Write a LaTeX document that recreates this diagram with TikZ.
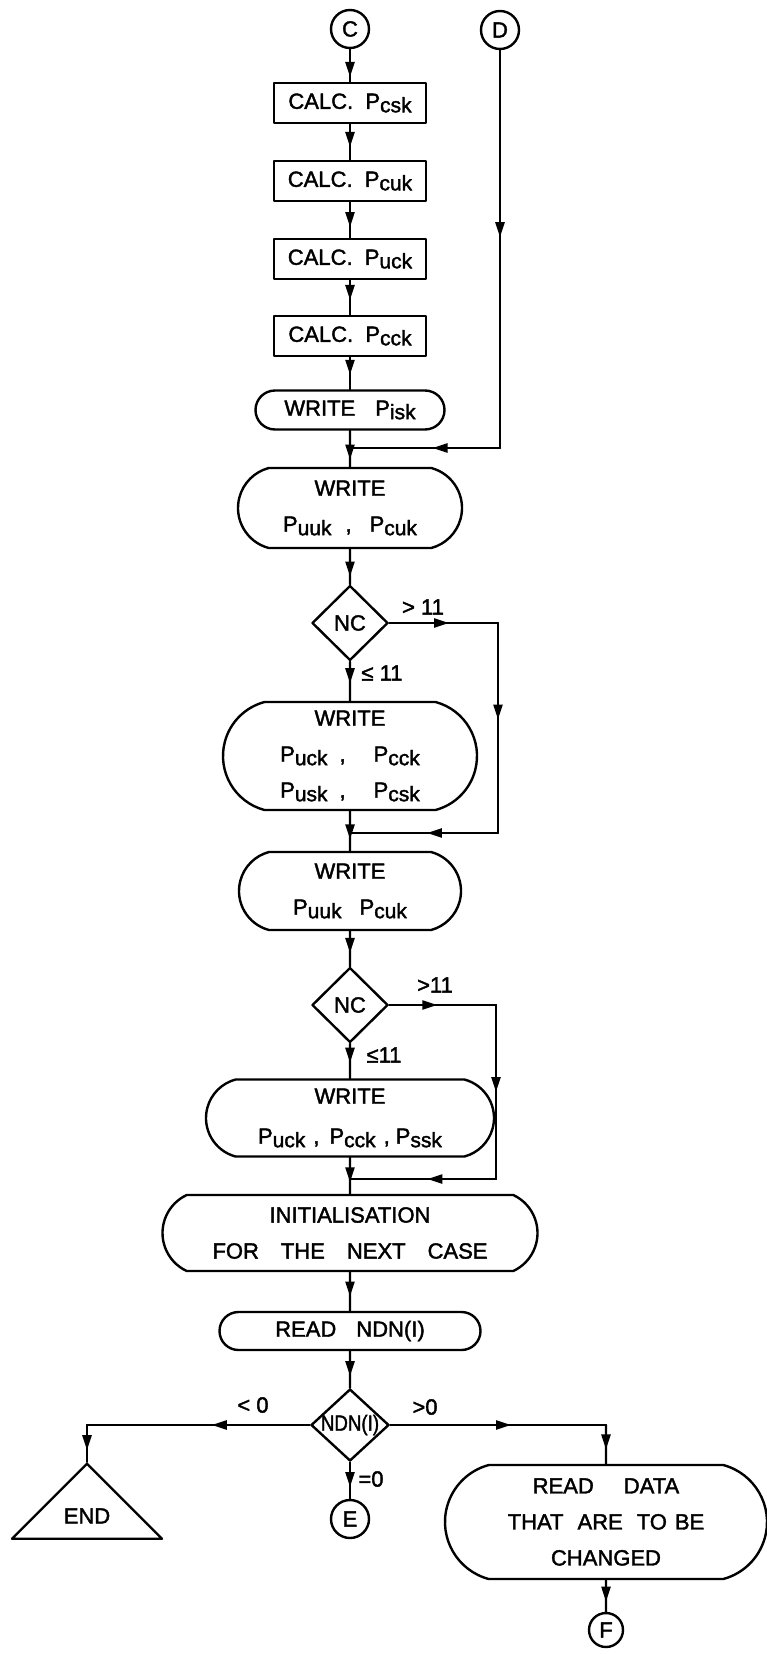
\documentclass[tikz,border=0pt]{standalone}
\usepackage{fontspec}
\setmainfont{Liberation Sans}[FakeBold=1.8]
\usetikzlibrary{shapes.geometric,shapes.misc,decorations.markings,arrows.meta}
\newcommand{\Psub}[1]{P\raisebox{-0.3ex}{\fontsize{21}{21}\selectfont #1}}
\begin{document}
\begin{tikzpicture}[x=1pt,y=-1pt,line width=2.4pt,line join=round,line cap=round,
	font=\fontsize{22}{36}\selectfont,
	calcbox/.style={draw,rectangle,minimum width=152pt,minimum height=40pt,inner sep=0pt},
	term/.style={draw,rounded rectangle,rounded rectangle arc length=150,inner sep=0pt,align=center},
	test/.style={draw,diamond,inner sep=0pt,minimum width=76pt,minimum height=75pt},
	conn/.style={draw,circle,inner sep=0pt,minimum size=38pt},
	lbl/.style={inner sep=0pt},
	flow/.style={postaction={decorate},decoration={markings,
		mark=at position #1 with {\arrow{Triangle[length=15pt,width=9pt]}}}},
	flow/.default=0.6]
	\useasboundingbox (0,0) rectangle (767,1654);
	% connectors C and D
	\node[conn] (C) at (350,29) {C};
	\node[conn] (D) at (500,30) {D};
	% calculation boxes
	\node[calcbox] (calc1) at (350,103) {CALC.\ \ \Psub{csk}};
	\node[calcbox] (calc2) at (350,181) {CALC.\ \ \Psub{cuk}};
	\node[calcbox] (calc3) at (350,259) {CALC.\ \ \Psub{uck}};
	\node[calcbox] (calc4) at (350,336) {CALC.\ \ \Psub{cck}};
	\node[term,rounded rectangle arc length=180,minimum width=189pt,minimum height=39pt] (wisk) at (350,410) {WRITE\hspace{20pt}\Psub{isk}};
	\draw[flow=0.85] (C) -- (calc1);
	\draw[flow=0.64] (calc1) -- (calc2);
	\draw[flow=0.7] (calc2) -- (calc3);
	\draw[flow=0.57] (calc3) -- (calc4);
	\draw[flow=0.55] (calc4) -- (wisk);
	% branch from D
	\coordinate (jD) at (500,448);
	\coordinate (j1) at (350,448);
	\node[term,minimum width=224pt,minimum height=80pt] (w1) at (350,508) {WRITE\\\Psub{uuk}\hspace{14pt},\hspace{18pt}\Psub{cuk}};
	\draw[flow=0.8] (wisk) -- (w1);
	\draw[flow=0.47] (D) -- (jD);
	\draw[flow=0.45] (jD) -- (j1);
	% first test on NC
	\node[test,label=center:NC] (nc1) at (350,623) {};
	\draw[flow=0.78] (w1) -- (nc1);
	\node[term,minimum width=254pt,minimum height=108pt] (w2) at (350,756) {WRITE\\\Psub{uck}\hspace{12pt},\hspace{28pt}\Psub{cck}\\\Psub{usk}\hspace{12pt},\hspace{28pt}\Psub{csk}};
	\coordinate (r1) at (498,623);
	\coordinate (r1b) at (498,833);
	\coordinate (j2) at (350,833);
	\draw[flow=0.55] (nc1.east) -- (r1);
	\draw[flow=0.46] (r1) -- (r1b);
	\draw[flow=0.48] (r1b) -- (j2);
	\draw[flow=0.55] (nc1) -- (w2);
	\node[lbl] (gt1) at (423,607) {> 11};
	\node[lbl] (le1) at (382,673) {≤ 11};
	\node[term,minimum width=222pt,minimum height=78pt] (w3) at (350,891) {WRITE\\\Psub{uuk}\hspace{18pt}\Psub{cuk}};
	\draw[flow=0.71] (w2) -- (w3);
	% second test on NC
	\node[test,label=center:NC] (nc2) at (350,1005) {};
	\draw[flow=0.62] (w3) -- (nc2);
	\node[term,minimum width=288pt,minimum height=77pt] (w4) at (350,1118) {WRITE\\[4pt]\Psub{uck}\hspace{8pt},\hspace{10pt}\Psub{cck}\hspace{8pt},\hspace{6pt}\Psub{ssk}};
	\coordinate (r2) at (496,1005);
	\coordinate (r2b) at (496,1179);
	\coordinate (j3) at (350,1179);
	\draw[flow=0.45] (nc2.east) -- (r2);
	\draw[flow=0.5] (r2) -- (r2b);
	\draw[flow=0.47] (r2b) -- (j3);
	\draw[flow=0.55] (nc2) -- (w4);
	\node[lbl] (gt2) at (435,985) {>11};
	\node[lbl] (le2) at (384,1055) {≤11};
	% next case
	\node[term,rounded rectangle arc length=130,minimum width=375pt,minimum height=76pt] (init) at (350,1233) {INITIALISATION\\FOR\quad THE\quad NEXT\quad CASE};
	\draw[flow=0.68] (w4) -- (init);
	\node[term,rounded rectangle arc length=180,minimum width=261pt,minimum height=38pt] (rndn) at (350,1331) {READ\hspace{20pt}NDN(I)};
	\draw[flow=0.63] (init) -- (rndn);
	\node[test,minimum width=78pt,minimum height=72pt,label=center:{\scalebox{0.85}[1]{NDN(I)}}] (ndn) at (350,1425) {};
	\draw[flow=0.68] (rndn) -- (ndn);
	% three exits
	\coordinate (l0) at (87,1425);
	\node[draw,isosceles triangle,isosceles triangle apex angle=90,shape border rotate=90,
		minimum width=75pt,minimum height=75pt,inner sep=0pt,anchor=apex] (end) at (87,1462) {END};
	\draw[flow=0.44] (ndn.west) -- (l0);
	\draw[flow=0.68] (l0) -- (end.apex);
	\node[lbl] (lt0) at (253,1405) {< 0};
	\node[conn] (E) at (350,1519) {E};
	\draw[flow=0.68] (ndn) -- (E);
	\node[lbl] (eq0) at (371,1479) {=0};
	\coordinate (r0) at (606,1425);
	\node[term,minimum width=322pt,minimum height=114pt] (rdata) at (606,1522) {READ\hspace{30pt}DATA\\THAT\hspace{14pt}ARE\hspace{14pt}TO\hspace{8pt}BE\\CHANGED};
	\draw[flow=0.56] (ndn.east) -- (r0);
	\draw[flow=0.63] (r0) -- (rdata);
	\node[lbl] (gt0) at (425,1407) {>0};
	\node[conn,minimum size=34pt] (F) at (606,1630) {F};
	\draw[flow=0.68] (rdata) -- (F);
\end{tikzpicture}
\end{document}
